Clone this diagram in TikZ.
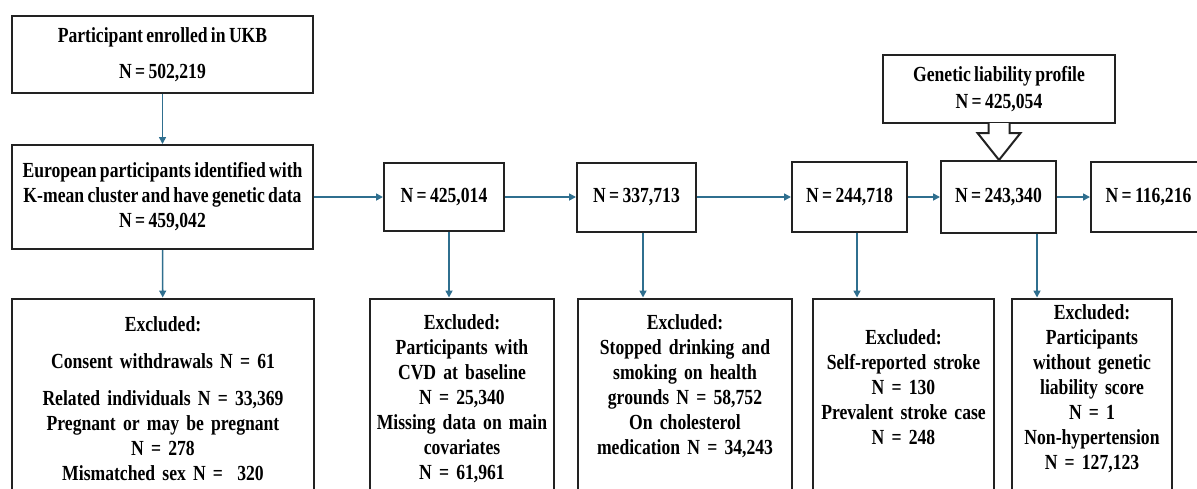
\documentclass[tikz,border=0pt]{standalone}
\usepackage{fontspec}
\setmainfont{Liberation Serif}[FakeStretch=0.82, WordSpace=0.75]
\usetikzlibrary{arrows.meta,calc}
\definecolor{flowblue}{HTML}{2F6F8F}
\definecolor{boxline}{HTML}{222222}

\begin{document}
\begin{tikzpicture}[x=0.5pt, y=-0.5pt,
    box/.style={draw=boxline, line width=1pt, align=center, inner xsep=2pt,
        font=\bfseries\fontsize{10.75pt}{12.5pt}\selectfont},
    exbox/.style={box, anchor=north, text depth=110pt},
    flow/.style={draw=flowblue, line width=0.8pt, -{Triangle[length=3.5pt,width=3.5pt]}},
    hollow/.style={draw=boxline, line width=1pt, fill=white}]
    \useasboundingbox (0,0) rectangle (1197,488);
    \clip (0,0) rectangle (1197,488);

    \node[box, minimum width=150.5pt, minimum height=38.5pt] (ukb) at (162.5,54.5)
        {Participant enrolled in UKB\\[5.5pt] N = 502,219};
    \node[box, minimum width=150.5pt, minimum height=52pt] (euro) at (162.5,197)
        {European participants identified with\\ K-mean cluster and have genetic data\\ N = 459,042};
    \node[box, minimum width=60pt, minimum height=34pt] (n425) at (444,197) {N = 425,014};
    \node[box, minimum width=59.5pt, minimum height=34.5pt] (n337) at (636.5,197) {N = 337,713};
    \node[box, minimum width=57.5pt, minimum height=35pt] (n244) at (849.5,197) {N = 244,718};
    \node[box, minimum width=57.5pt, minimum height=36pt] (n243) at (998.5,197) {N = 243,340};
    \node[box, minimum width=57.5pt, minimum height=35pt] (n116) at (1148.5,197) {N = 116,216};
    \node[box, minimum width=116pt, minimum height=34pt] (gen) at (999,89)
        {Genetic liability profile\\[1pt] N = 425,054};

    \node[exbox, text width=147pt, inner ysep=9pt] (ex1) at (163,297.5)
        {Excluded:\\[6pt] Consent withdrawals N = 61\\[6pt] Related individuals N = 33,369\\
         Pregnant or may be pregnant\\ N = 278\\ Mismatched sex N =\ \ 320};
    \node[exbox, text width=88pt, inner ysep=8pt] (ex2) at (462,297.5)
        {Excluded:\\ Participants with\\ CVD at baseline\\ N = 25,340\\
         Missing data on main\\ covariates\\ N = 61,961};
    \node[exbox, text width=103pt, inner ysep=8pt] (ex3) at (685,297.5)
        {Excluded:\\ Stopped drinking and\\ smoking on health\\ grounds N = 58,752\\
         On cholesterol\\ medication N = 34,243};
    \node[exbox, text width=86.5pt, inner ysep=15.5pt] (ex4) at (903.5,297.5)
        {Excluded:\\ Self-reported stroke\\ N = 130\\ Prevalent stroke case\\ N = 248};
    \node[exbox, text width=76pt, inner ysep=3pt] (ex5) at (1092,297.5)
        {Excluded:\\ Participants\\ without genetic\\ liability score\\ N = 1\\
         Non-hypertension\\ N = 127,123};

    \draw[flow] (ukb) -- (euro);
    \draw[flow] (euro) -- (ex1);
    \draw[flow] (euro) -- (n425);
    \draw[flow] (n425) -- (n337);
    \draw[flow] (n337) -- (n244);
    \draw[flow] (n244) -- (n243);
    \draw[flow] (n243) -- (n116);
    \draw[flow] ($(n425.south)+(5,0)$) -- ($(n425.south |- ex2.north)+(5,0)$);
    \draw[flow] ($(n337.south)+(6.5,0)$) -- ($(n337.south |- ex3.north)+(6.5,0)$);
    \draw[flow] ($(n244.south)+(7.5,0)$) -- ($(n244.south |- ex4.north)+(7.5,0)$);
    \draw[flow] ($(n243.south east)+(-20,0)$) -- ($(n243.south east |- ex5.north)+(-20,0)$);

    \draw[hollow] ($(gen.south)+(-10.5,-1)$) -- ++(0,10) -- ++(-11,0)
        -- (gen.south |- n243.north) -- ($(gen.south)+(21.5,9)$)
        -- ++(-11,0) -- ++(0,-10);
\end{tikzpicture}
\end{document}
